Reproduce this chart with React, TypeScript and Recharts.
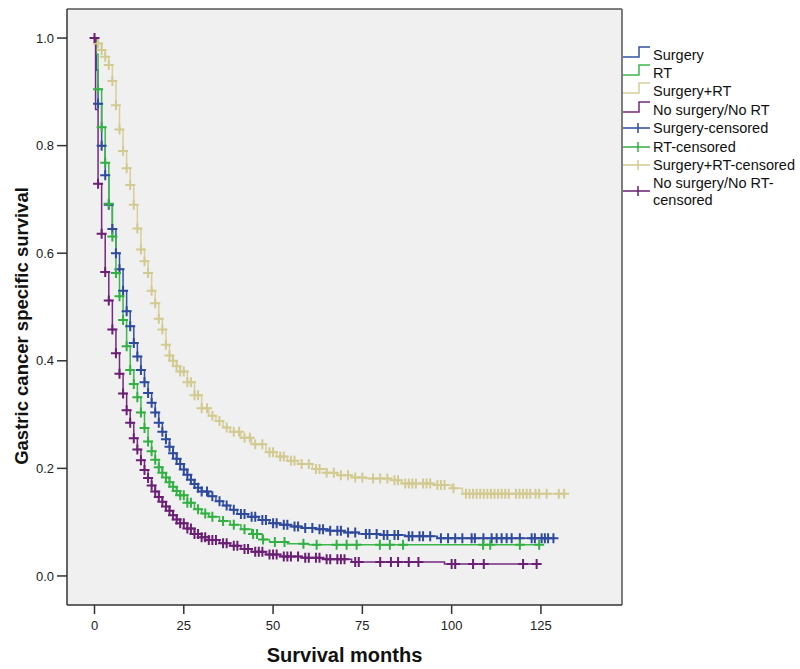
import { ComposedChart, Line, Scatter, XAxis, YAxis, CartesianGrid, ReferenceLine } from 'recharts';

const xTicks = [0, 25, 50, 75, 100, 125];
const yTicks = [0, 0.2, 0.4, 0.6, 0.8, 1.0];

// Surgery
const surgeryT = [0, 0.5, 1, 2, 3, 4, 5, 6, 7, 8, 9, 10, 11, 12, 13, 14, 15, 16, 17, 18, 19, 20, 21, 22, 23, 24, 25, 26, 27, 28, 29, 30, 32, 34, 36, 38, 40, 43, 46, 49, 52, 55, 58, 62, 66, 70, 74, 80, 87, 96, 129];
const surgeryS = [1, 0.94, 0.878, 0.8, 0.745, 0.69, 0.645, 0.6, 0.57, 0.53, 0.492, 0.464, 0.433, 0.408, 0.383, 0.36, 0.34, 0.322, 0.304, 0.285, 0.268, 0.254, 0.24, 0.228, 0.218, 0.208, 0.198, 0.188, 0.179, 0.171, 0.164, 0.157, 0.148, 0.139, 0.131, 0.123, 0.115, 0.11, 0.104, 0.098, 0.095, 0.092, 0.089, 0.087, 0.084, 0.081, 0.078, 0.076, 0.074, 0.07, 0.07];
const surgeryCens = [1, 2, 3, 4, 5, 6, 7, 8, 9, 10, 11, 12, 13, 14, 15, 16, 17, 18, 19, 20, 21, 22, 23, 24, 25, 26, 27, 28, 29, 30, 31.5, 33, 35, 37, 39, 41, 42, 44, 45, 47, 48, 50, 51, 53, 54, 56, 57, 59, 61, 63, 64, 66, 68, 69, 71, 73, 76, 77, 79, 81, 82, 84, 85, 88, 89, 91, 92, 94, 97, 99, 101, 103, 105.6, 106.5, 108.9, 111.2, 112.6, 114, 115.4, 116.8, 119.1, 122.4, 123.3, 125.2, 126.1, 127, 128.5];

// RT
const rtT = [0, 0.5, 1, 2, 3, 4, 5, 6, 7, 8, 9, 10, 11, 12, 13, 14, 15, 16, 17, 18, 19, 20, 21, 22, 23, 24, 26, 28, 30, 32, 35, 38, 41, 44, 47, 49, 54, 60, 125];
const rtS = [1, 0.97, 0.905, 0.834, 0.768, 0.692, 0.631, 0.563, 0.52, 0.476, 0.427, 0.383, 0.357, 0.332, 0.304, 0.275, 0.25, 0.232, 0.216, 0.202, 0.192, 0.183, 0.174, 0.166, 0.158, 0.15, 0.136, 0.124, 0.116, 0.11, 0.102, 0.095, 0.087, 0.078, 0.068, 0.063, 0.06, 0.058, 0.058];
const rtCens = [1, 2, 3, 4, 5, 6, 7, 8, 9, 10, 11, 12, 13, 14, 15, 16, 17, 18, 19, 20, 21, 22, 23, 24, 25, 26, 27, 29, 31, 33, 36, 39, 42, 44.4, 45.5, 47.2, 50.5, 53.2, 58.5, 62.2, 67.8, 70.6, 73.4, 79.9, 82.7, 86.4, 108.8, 110.8, 119.1, 124.5];

// Surgery+RT
const bothT = [0, 1, 2, 3, 4, 5, 6, 7, 8, 9, 10, 11, 12, 13, 14, 15, 16, 17, 18, 19, 20, 21, 22, 23, 24, 26, 28, 30, 32, 34, 36, 38, 41, 44, 48, 51, 54, 57, 61, 65, 68, 72, 76, 83, 86, 95, 100, 103, 132];
const bothS = [1, 0.99, 0.978, 0.965, 0.95, 0.92, 0.875, 0.83, 0.79, 0.758, 0.727, 0.69, 0.646, 0.607, 0.585, 0.563, 0.53, 0.507, 0.478, 0.458, 0.43, 0.41, 0.4, 0.39, 0.38, 0.36, 0.336, 0.312, 0.298, 0.288, 0.276, 0.268, 0.257, 0.245, 0.23, 0.222, 0.214, 0.208, 0.199, 0.192, 0.187, 0.183, 0.181, 0.178, 0.172, 0.169, 0.163, 0.153, 0.153];
const bothCens = [1, 2, 3, 4, 5, 6, 7, 8, 9, 10, 11, 12, 13, 14, 15, 16, 17, 18, 19, 20, 21, 22, 23, 24, 25, 26, 27, 28, 29, 30, 31.5, 33, 35, 37, 39, 40.5, 42, 43.5, 45, 47, 49, 50, 52, 53, 55, 56, 58, 60, 62, 63, 65, 67, 69, 71, 73, 75, 78, 80, 82, 84, 85, 87, 88, 89, 90, 92, 93, 94, 96, 97, 98, 100.5, 104, 105, 106, 107, 108, 109, 110, 111, 112, 113, 114, 115, 116, 118, 119, 120, 121, 122, 123.5, 124.5, 126.6, 130, 131.5];

// No surgery/No RT
const noneT = [0, 0.3, 1, 2, 3, 4, 5, 6, 7, 8, 9, 10, 11, 12, 13, 14, 15, 16, 17, 18, 19, 20, 21, 22, 23, 24, 26, 28, 30, 32, 35, 38, 41, 44, 48, 52, 58, 64, 72, 98, 124];
const noneS = [1, 0.867, 0.729, 0.636, 0.565, 0.512, 0.458, 0.414, 0.376, 0.339, 0.308, 0.285, 0.256, 0.235, 0.215, 0.197, 0.182, 0.168, 0.157, 0.147, 0.138, 0.129, 0.121, 0.113, 0.105, 0.098, 0.088, 0.078, 0.072, 0.067, 0.061, 0.056, 0.05, 0.045, 0.04, 0.036, 0.034, 0.031, 0.026, 0.022, 0.022];
const noneCens = [0, 1, 2, 3, 4, 5, 6, 7, 8, 9, 10, 11, 12, 13, 14, 15, 16, 17, 18, 19, 20, 21, 22, 23, 24, 25, 26, 27, 28, 29, 30, 31, 32, 33, 34, 36, 37, 39, 40, 42, 43, 45, 46, 47, 49, 50, 51, 53, 54, 55, 57, 59, 60, 62, 63, 65, 66, 68, 69, 70, 73, 74, 80, 83, 85, 88, 90.7, 100, 101, 106, 109, 120, 123.8];

const X_MIN = -7.7;
const X_MAX = 147.7;
const Y_MIN = -0.054;
const Y_MAX = 1.054;

const FONT = '"Liberation Sans", Arial, sans-serif';

const steps = (t: number[], s: number[]) => t.map((v, i) => ({ t: v, s: s[i] }));

// survival value of the step curve at a censoring time
const survAt = (t: number[], s: number[], x: number) => {
  let v = s[0];
  for (let i = 0; i < t.length; i++) {
    if (t[i] <= x) v = s[i];
  }
  return v;
};
const censored = (t: number[], s: number[], c: number[]) => c.map((x) => ({ t: x, s: survAt(t, s, x) }));

const series = [
  { name: 'Surgery', color: '#3452A6', crossColor: '#2E4A9E', steps: steps(surgeryT, surgeryS), cens: censored(surgeryT, surgeryS, surgeryCens) },
  { name: 'RT', color: '#3DB84B', crossColor: '#33B043', steps: steps(rtT, rtS), cens: censored(rtT, rtS, rtCens) },
  { name: 'Surgery+RT', color: '#D6CF9A', crossColor: '#D2CA90', steps: steps(bothT, bothS), cens: censored(bothT, bothS, bothCens) },
  { name: 'No surgery/No RT', color: '#742A7E', crossColor: '#6A1F74', steps: steps(noneT, noneS), cens: censored(noneT, noneS, noneCens) },
];

const crossShape = (color: string) => (p: any) => (
  <path
    d={`M${p.cx - 5},${p.cy}H${p.cx + 5}M${p.cx},${p.cy - 5}V${p.cy + 5}`}
    stroke={color}
    strokeWidth={2}
    fill="none"
  />
);

const legendRows = [55, 73, 91, 110, 128, 147, 165, 183];

function KMLegend() {
  return (
    <svg width={180} height={220} style={{ position: 'absolute', left: 620, top: 0 }}>
      <g transform="translate(-620,0)" fontFamily={FONT} fontSize={14.5} fill="#111">
        {series.map((s, i) => {
          const y = legendRows[i];
          return (
            <g key={s.name}>
              <path d={`M623,${y + 2}H639V${y - 8}H650`} stroke={s.color} strokeWidth={1.5} fill="none" />
              <text x={653} y={y} dominantBaseline="central">{s.name}</text>
            </g>
          );
        })}
        {series.map((s, i) => {
          const y = legendRows[i + 4];
          const iconY = i === 3 ? y + 8 : y;
          return (
            <g key={s.name + '-c'}>
              <path d={`M623,${iconY}H650M638,${iconY - 5}V${iconY + 5}`} stroke={s.crossColor} strokeWidth={1.5} fill="none" />
              {i === 3 ? (
                <text x={653} y={y} dominantBaseline="central">
                  <tspan x={653}>{s.name + '-'}</tspan>
                  <tspan x={653} dy={17}>censored</tspan>
                </text>
              ) : (
                <text x={653} y={y} dominantBaseline="central">{s.name + '-censored'}</text>
              )}
            </g>
          );
        })}
      </g>
    </svg>
  );
}

export default function App() {
  return (
    <div style={{ position: 'absolute', left: 0, top: 0, width: 800, height: 669, background: '#fff', fontFamily: FONT }}>
      <ComposedChart width={800} height={669} margin={{ top: 9, right: 178, bottom: 0, left: 0 }}>
        <CartesianGrid fill="#F0F0F0" horizontal={false} vertical={false} />
        <XAxis
          type="number"
          dataKey="t"
          domain={[X_MIN, X_MAX]}
          ticks={xTicks}
          allowDataOverflow
          height={64}
          tickSize={9}
          tickMargin={7}
          stroke="#333"
          strokeWidth={1.5}
          tick={{ fill: '#222', fontSize: 13, fontFamily: FONT }}
          label={{ value: 'Survival months', position: 'insideBottom', offset: 7, style: { fontSize: 20, fontWeight: 'bold', fill: '#111', fontFamily: FONT } }}
        />
        <YAxis
          type="number"
          dataKey="s"
          domain={[Y_MIN, Y_MAX]}
          ticks={yTicks}
          allowDataOverflow
          width={67}
          tickSize={10}
          tickMargin={3}
          stroke="#333"
          strokeWidth={1.5}
          tickFormatter={(v: number) => v.toFixed(1)}
          tick={{ fill: '#222', fontSize: 13, fontFamily: FONT }}
          label={{
            content: () => (
              <text
                x={21}
                y={326}
                transform="rotate(-90 21 326)"
                textAnchor="middle"
                dominantBaseline="central"
                fontSize={18.5}
                fontWeight="bold"
                fill="#111"
                fontFamily={FONT}
              >
                Gastric cancer specific survival
              </text>
            ),
          }}
        />
        <ReferenceLine y={Y_MAX} stroke="#555" strokeWidth={1.5} />
        <ReferenceLine x={X_MAX} stroke="#555" strokeWidth={1.5} />
        {series.map((s) => (
          <Line
            key={s.name}
            data={s.steps}
            dataKey="s"
            type="stepAfter"
            stroke={s.color}
            strokeWidth={1.5}
            dot={false}
            activeDot={false}
            isAnimationActive={false}
          />
        ))}
        {series.map((s) => (
          <Scatter
            key={s.name + '-c'}
            data={s.cens}
            dataKey="s"
            shape={crossShape(s.crossColor)}
            isAnimationActive={false}
          />
        ))}
      </ComposedChart>
      <KMLegend />
    </div>
  );
}
